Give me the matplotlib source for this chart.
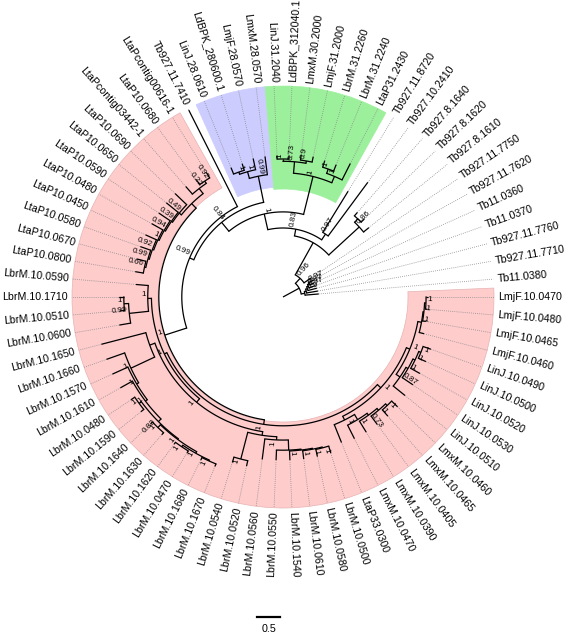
import numpy as np
import matplotlib.pyplot as plt
from matplotlib.patches import Wedge

plt.rcParams['font.family'] = ['Liberation Sans', 'DejaVu Sans']

# --- tree data (Newick pieces, branch lengths in substitutions/site) ---
TB_SMALL = ("(Tb11.0380:0.30,(Tb927.11.7710:0.25,(Tb927.11.7760:0.20,(Tb11.0370:0.15,"
            "(Tb11.0360:0.10,Tb927.11.7620:0.12)0.97:0.04)0.87:0.04)0.97:0.04)0.9:0.04)")
TB_8 = "(Tb927.8.1610:0.15,(Tb927.8.1620:0.10,Tb927.8.1640:0.10):0.10)0.86"
TB_10 = "(Tb927.10.2410:1.45,Tb927.11.8720:1.05)0.97"
GREEN = ("((LtaP31.2430:0.40,(LbrM.31.2240:0.15,LbrM.31.2260:0.15)1:0.10)1:0.15,"
         "((LmjF.31.2000:0.12,LmxM.30.2000:0.12)0.9:0.05,"
         "(LdBPK_312040.1:0.08,LinJ.31.2040:0.08)1:0.05)0.73:0.25)1")
BLUE = "(LmxM.28.0570:0.40,(LmjF.28.0570:0.25,(LdBPK_280600.1:0.15,LinJ.28.0610:0.15)1:0.05)1:0.15)0.99"
LTA = ("(((LtaPcontig00616-1:0.14,LtaP10.0680:0.12)0.92:0.06,LtaPcontig03442-1:0.22)0.22:0.14,"
       "(LtaP10.0690:0.35,(LtaP10.0650:0.33,(LtaP10.0590:0.30,(LtaP10.0480:0.28,(LtaP10.0450:0.26,"
       "(LtaP10.0580:0.24,(LtaP10.0670:0.20,LtaP10.0800:0.18)0.66:0.03)0.99:0.03)0.92:0.03)1:0.03)"
       "0.94:0.03)0.39:0.03)0.49:0.06)")
LBR_A = "(LbrM.10.0590:0.27,((LbrM.10.1710:0.10,LbrM.10.0510:0.10)1:0.10,LbrM.10.0600:0.25)0.99:0.42)1"
LBR_B1 = ("(LbrM.10.1650:1.00,(LbrM.10.1660:0.42,(LbrM.10.1570:0.37,(LbrM.10.1610:0.30,"
          "((LbrM.10.0480:0.10,LbrM.10.1590:0.08)1:0.06,((LbrM.10.1640:0.06,LbrM.10.1630:0.06)1:0.08,"
          "((LbrM.10.1620:0.05,LbrM.10.0470:0.05)1:0.04,(LbrM.10.1680:0.06,LbrM.10.1670:0.06)1:0.02)1:0.04)"
          "1:0.02)0.83:0.08)1:0.05)1:0.05)1:0.57)")
LBR_B2 = ("((LbrM.10.0540:0.12,LbrM.10.0520:0.12)1:0.60,(LbrM.10.0560:0.45,(LbrM.10.0550:0.22,"
          "(LbrM.10.1540:0.20,(LbrM.10.0610:0.18,(LbrM.10.0580:0.16,LbrM.10.0500:0.16)1:0.02)1:0.02)"
          "1:0.02)1:0.22)1:0.07)")
LTA33 = ("(LtaP33.0300:0.42,(LmxM.10.0470:0.33,(LmxM.10.0390:0.28,(LmxM.10.0405:0.23,"
         "(LmxM.10.0465:0.18,LmxM.10.0460:0.18)1:0.05)1:0.05)0.73:0.05)1:0.13)1")
LJM = ("((LinJ.10.0510:0.33,(LinJ.10.0530:0.28,(LinJ.10.0520:0.23,(LinJ.10.0500:0.18,LinJ.10.0490:0.18)1:0.05)"
       "1:0.05)1:0.05)0.87:0.10,(LmjF.10.0460:0.11,(LmjF.10.0465:0.07,(LmjF.10.0480:0.04,"
       "LmjF.10.0470:0.04)1:0.03)1:0.02)1:0.08)1")

PINK = ("({LTA}:0.14,(({LBR_A}:0.08,({LBR_B1}:0.12,{LBR_B2}:0.08)1:0.10)1:0.06,"
        "({LTA33}:0.09,{LJM}:0.08)1:0.10)1:0.10)1")
BACKBONE = ("({TB_SMALL}:0.08,(Tb927.11.7750:0.20,({TB_8}:0.90,({TB_10}:0.15,({GREEN}:0.85,"
            "({BLUE}:0.58,(Tb927.11.7410:2.35,{PINK}:0.50)0.99:0.10)0.84:0.25)1:0.35)0.83:0.15)"
            ":0.80)0.96:0.15):0.40")

# highlighted clades: (first tip, last tip, colour, inner radius px)
HIGHLIGHTS = [
    ("LtaPcontig00616-1", "LmjF.10.0470", "#ffcccc", 125),
    ("LmxM.28.0570", "LinJ.28.0610", "#ccccff", 110),
    ("LtaP31.2430", "LinJ.31.2040", "#9cf09c", 108),
]
SCALE_BAR = 0.5

# --- layout ---
PX_PER_UNIT = 46.0
CX, CY = 283.0, 339.0
R_OUTER = 211.0
R_LABEL = 215.0


def parse_newick(s):
    pos = 0

    def node():
        nonlocal pos
        n = {'children': [], 'name': '', 'len': 0.0}
        if s[pos] == '(':
            pos += 1
            while True:
                n['children'].append(node())
                if s[pos] == ',':
                    pos += 1
                    continue
                pos += 1  # ')'
                break
        start = pos
        while pos < len(s) and s[pos] not in ',():;':
            pos += 1
        n['name'] = s[start:pos]
        if pos < len(s) and s[pos] == ':':
            pos += 1
            start = pos
            while pos < len(s) and s[pos] not in ',();':
                pos += 1
            n['len'] = float(s[start:pos])
        return n

    return node()


pink = PINK.format(LTA=LTA, LBR_A=LBR_A, LBR_B1=LBR_B1, LBR_B2=LBR_B2, LTA33=LTA33, LJM=LJM)
tree = parse_newick(BACKBONE.format(TB_SMALL=TB_SMALL, TB_8=TB_8, TB_10=TB_10, GREEN=GREEN,
                                    BLUE=BLUE, PINK=pink))

tips = []


def layout(n, depth):
    n['depth'] = depth + n['len']
    if not n['children']:
        tips.append(n)
        return
    for c in n['children']:
        layout(c, n['depth'])


layout(tree, 0.0)
step = 360.0 / len(tips)
for i, t in enumerate(tips):
    t['angle'] = (i + 1) * step


def set_angles(n):
    if n['children']:
        for c in n['children']:
            set_angles(c)
        n['angle'] = (n['children'][0]['angle'] + n['children'][-1]['angle']) / 2


set_angles(tree)


def xy(r, a):
    t = np.radians(a)
    return CX + r * np.cos(t), CY + r * np.sin(t)


def text_rot(a):
    a = a % 360
    if 90 < a < 270:
        return a - 180, 'right'
    return (a if a <= 90 else a - 360), 'left'


fig = plt.figure(figsize=(5.67, 6.36), dpi=100)
ax = fig.add_axes([0, 0, 1, 1])
ax.set_xlim(0, 567)
ax.set_ylim(0, 636)
ax.set_aspect('equal')
ax.axis('off')

angle_of = {t['name']: t['angle'] for t in tips}
for first, last, col, r_in in HIGHLIGHTS:
    a1 = angle_of[first] - step / 2
    a2 = angle_of[last] + step / 2
    ax.add_patch(Wedge((CX, CY), R_OUTER, a1, a2, width=R_OUTER - r_in,
                       facecolor=col, edgecolor='#e6b3b3' if col == '#ffcccc' else col,
                       lw=0.5, zorder=0))

lw = 0.9


def draw(n, parent_r):
    r = n['depth'] * PX_PER_UNIT
    x0, y0 = xy(parent_r, n['angle'])
    x1, y1 = xy(r, n['angle'])
    ax.plot([x0, x1], [y0, y1], color='black', lw=lw, solid_capstyle='butt', zorder=2)
    if n['children']:
        a = np.linspace(n['children'][0]['angle'], n['children'][-1]['angle'], 60)
        ax.plot(CX + r * np.cos(np.radians(a)), CY + r * np.sin(np.radians(a)),
                color='black', lw=lw, zorder=2)
        if n['name'] and parent_r > 0:
            rot, ha = text_rot(n['angle'])
            lx, ly = xy(r + 1.5, n['angle'])
            ax.text(lx, ly, n['name'], fontsize=5.9, rotation=rot, ha=ha, va='bottom',
                    rotation_mode='anchor', zorder=3)
        for c in n['children']:
            draw(c, r)
    else:
        xe, ye = xy(R_OUTER, n['angle'])
        ax.plot([x1, xe], [y1, ye], color='#8c8c8c', lw=0.6, ls=(0, (1, 1.5)), zorder=1)
        rot, ha = text_rot(n['angle'])
        lx, ly = xy(R_LABEL, n['angle'])
        ax.text(lx, ly, n['name'], fontsize=7.7, rotation=rot, ha=ha, va='center',
                rotation_mode='anchor', zorder=3)


draw(tree, 0.0)

# scale bar
bx = 257
ax.plot([bx, bx + SCALE_BAR * PX_PER_UNIT], [19, 19], color='black', lw=1.6)
ax.text(bx + SCALE_BAR * PX_PER_UNIT / 2, 7, str(SCALE_BAR), fontsize=7.7, ha='center', va='center')

fig.savefig('out.png', dpi=100)
